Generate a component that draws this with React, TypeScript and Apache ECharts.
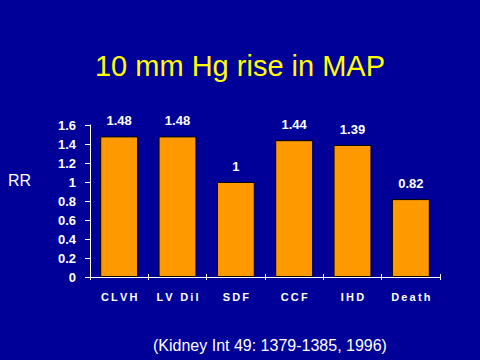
import React, { useEffect, useRef } from "react";
import * as echarts from "echarts";

const categories = ["CLVH", "LV Dil", "SDF", "CCF", "IHD", "Death"];
const rrValues = [1.48, 1.48, 1.0, 1.44, 1.39, 0.82];
const titleText = "10 mm Hg rise in MAP";
const yAxisName = "RR";
const citation = "(Kidney Int 49: 1379-1385, 1996)";

const FONT = "'Liberation Sans', Arial, sans-serif";
const spaced = (s: string) => s.split("").join("\u2009");

export default function App() {
  const ref = useRef<HTMLDivElement>(null);
  useEffect(() => {
    if (!ref.current) return;
    const chart = echarts.init(ref.current, null, { renderer: "svg" });
    chart.setOption({
      animation: false,
      backgroundColor: "#000099",
      title: {
        text: titleText,
        left: "center",
        top: 46,
        textStyle: { color: "#FFFF00", fontSize: 29, fontWeight: "normal", fontFamily: FONT },
      },
      grid: { left: 90, right: 40, top: 125, bottom: 83 },
      xAxis: [
        {
          type: "category",
          data: categories,
          axisLine: { lineStyle: { color: "#FFFFFF", width: 1 } },
          axisTick: { show: true, length: 3, lineStyle: { color: "#FFFFFF" } },
          axisLabel: {
            color: "#FFFFFF",
            fontSize: 11,
            fontWeight: "bold",
            fontFamily: FONT,
            margin: 14,
            formatter: (v: string) => spaced(v),
          },
        },
        {
          type: "category",
          data: categories,
          position: "bottom",
          axisLine: { show: false },
          axisTick: { show: true, inside: true, length: 3, lineStyle: { color: "#FFFFFF" } },
          axisLabel: { show: false },
        },
      ],
      yAxis: {
        type: "value",
        min: 0,
        max: 1.6,
        interval: 0.2,
        splitLine: { show: false },
        axisLine: { show: true, lineStyle: { color: "#FFFFFF", width: 1 } },
        axisTick: { show: true, length: 5, lineStyle: { color: "#FFFFFF" } },
        axisLabel: {
          color: "#FFFFFF",
          fontSize: 13,
          fontWeight: "bold",
          fontFamily: FONT,
          margin: 14,
        },
      },
      graphic: [
        {
          type: "text",
          left: 8,
          top: 172,
          style: { text: yAxisName, fill: "#FFFFFF", fontSize: 16, fontFamily: FONT },
        },
        {
          type: "text",
          left: 153,
          top: 337,
          style: { text: citation, fill: "#FFFFFF", fontSize: 16, fontFamily: FONT },
        },
      ],
      series: [
        {
          type: "bar",
          data: rrValues,
          barWidth: "65%",
          itemStyle: { color: "#FF9900", borderColor: "#000000", borderWidth: 1 },
          label: {
            show: true,
            position: "top",
            distance: 9,
            color: "#FFFFFF",
            fontSize: 13,
            fontWeight: "bold",
            fontFamily: FONT,
          },
        },
      ],
    });
    return () => chart.dispose();
  }, []);
  return <div ref={ref} style={{ width: 480, height: 360, position: "absolute", left: 0, top: 0 }} />;
}
